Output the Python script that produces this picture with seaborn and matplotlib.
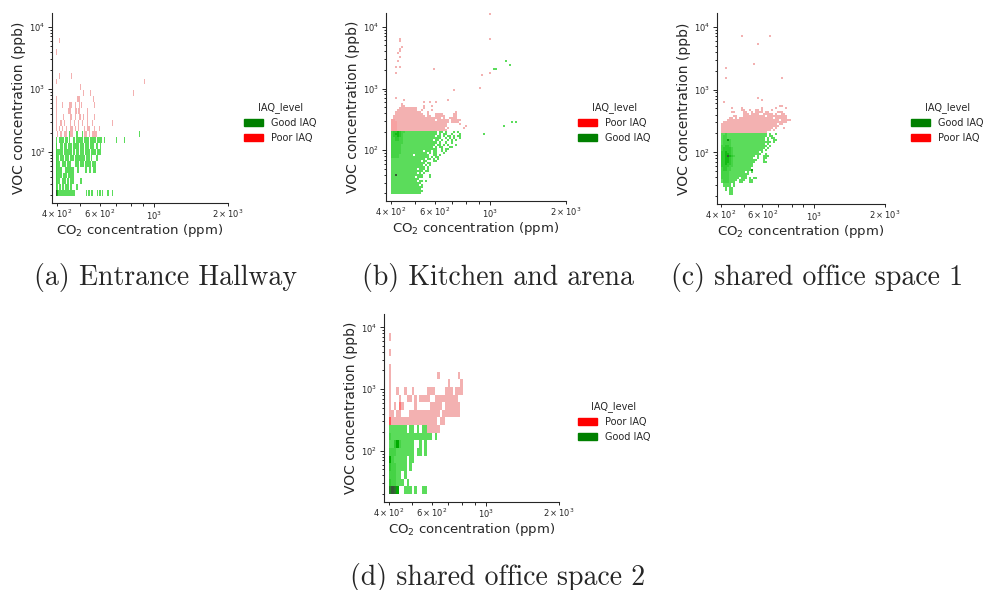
import numpy as np
import pandas as pd
import matplotlib
matplotlib.use("Agg")
import matplotlib.pyplot as plt
import seaborn as sns

# Count represented by each grid character ('.' = empty bin)
LEVEL_COUNTS = {"1": 1, "2": 3, "3": 5, "4": 8, "5": 11, "6": 14, "7": 18, "8": 22, "9": 26}

# ---------------- (a) Entrance Hallway ----------------
# bins in log10 units: origin, width and number of bins for CO2 (x) and VOC (y)
hallway_bins = dict(x0=2.599, dx=0.004075, nx=100, y0=1.291, dy=0.0939, ny=28)
hallway_good_top = 10
hallway_good_rows = [
    ".............1.1....11....1......1.....1",
    "1..11111.111.1...11.1111111.11111.111111.11111..1",
    "2...111.111.1111.111111.1111.1111.1111..11..1",
    "2111111.11111111.11.111.1111.11111.11111.1111",
    "211.1111.1111.1111.1111111111.1111.1....11",
    "2111..1111.1111....1111.1111.111111.1111",
    "211111...111111111...11......11..11..111",
    "211111.1111.111111",
    "2111..1111.11.1111......11",
    "21.11.11.1111.11....11",
    "9411111111111111111...........1.11.11....1.11.1....11...1",
]
hallway_good_co2 = [868, 698, 752]
hallway_good_voc = [187, 153, 153]
hallway_poor_top = 26
hallway_poor_rows = [
    "...1",
    "",
    "1",
    "",
    "",
    "",
    "...1...........1",
    "1",
    "........................1",
    "...........................1......1",
    "1....................111.............1",
    "1.....1......111...1...1.1............1",
    "1...........111....11.11.......1",
    "1......1......11...1...11..1...1......1",
    "1...11..1.....1...1...1...1....1....1",
    "1..1..1...1...111..1..1.....1..111....1....1",
    ".1..11..111...111...........111..1..11111",
]
hallway_poor_co2 = [908, 820, 672]
hallway_poor_voc = [1377, 902, 295]

# ---------------- (b) Kitchen and arena ----------------
kitchen_bins = dict(x0=2.602, dx=0.008, nx=64, y0=1.287, dy=0.0329, ny=90)
kitchen_good_top = 30
kitchen_good_rows = [
    "23343221111111111111111.11.1...1.1",
    "23443211111111111111111.1.11..1...1",
    "2334321111111111111111.11.1.11.1.11",
    "2233221111111111111111111..1.1.1..1",
    "223322111111111111111.11.1..1.1.1",
    "22222211111111111111111.1..1..1",
    "2222211111111111111111.11.1.1...1",
    "222221111111111111111.1.11...11",
    "22222111111111111111111..1.11",
    "2222211111111111.111.11..1.1",
    "222221111111111111.1.11...1",
    "22221111111.1111111..11.1",
    "2222111111111111111.1.11",
    "11111111111111111.11.1.1",
    "111111111111111.11...11",
    "11111111111111111.11",
    "1111111111111111.1.1",
    "11111111111111111.1",
    "1111111111111.111.1",
    "1111111111111111.11",
    "1111111111111.1.1",
    "1191111111111111...1",
    "111111111111.111...1",
    "11111111111111",
    "1111111111111.11.1",
    "111111111111111",
    "11111111111111.1",
    "1111111111111111",
    "111111111111111",
    "1111111111111111",
    "111111111111111",
]
kitchen_good_co2 = [1026, 1060, 1162, 1194, 1220, 1258, 1125, 935]
kitchen_good_voc = [2030, 2030, 2740, 2450, 295, 295, 245, 180]
kitchen_poor_top = 43
kitchen_poor_rows = [
    ".....11.........1...1",
    "....111111111...1",
    "...1111111111..1....1",
    "..1111111111111...1.............1",
    "..11111111111111..1...1111.....11",
    ".1111111111111111.11..11111....11",
    ".111111111111111111111111.1..1111",
    "2211111111111111111111.111111.11111",
    "22211111111111111111111111111.1111",
    "2221111111111111111111111111......1",
    "2221111111111111111111111111",
    "222111111111111111111111111.1",
    "2221111111111111111111111111",
]
kitchen_poor_co2 = [415, 447, 440, 542, 571, 607, 679, 721, 910, 927, 997, 418, 589,
                    422, 437, 426, 433, 429, 437, 434, 441, 437, 433, 1002, 988, 785, 800]
kitchen_poor_voc = [689, 660, 571, 593, 593, 593, 638, 929, 1040, 1690, 1815, 1815, 2030,
                    2270, 2270, 2740, 3300, 3690, 3980, 4450, 4790, 6000, 6460, 6460, 15900, 235, 250]

# ---------------- (c) shared office space 1 ----------------
office1_bins = dict(x0=2.602, dx=0.0085, nx=40, y0=1.317, dy=0.0318, ny=92)
office1_good_top = 30
office1_good_rows = [
    "11211111111111111111111.1..1",
    "12211111111111111111111.11",
    "1221111111111111111111.1.11",
    "1226211111111111111111.1..11",
    "1222211111111111111111111.1",
    "1222211111111111111111.1",
    "22332111111111111111111.1",
    "2333321111111111111111.1",
    "233332111111111111111.1",
    "3343321111111111111.1",
    "33443211111111111111..1",
    "33494321111111111.1..111",
    "3344321111111111..1..11",
    "334432111111111111...1",
    "33443211111111111....11",
    "3343321111111111",
    "3333221111111111",
    "233221111111111",
    "2332211111111116",
    "222211111111.1.1",
    "22221111111111",
    "2222111111111",
    "222211111.111.1.11",
    "12221111.111..11",
    "1222111..11...11",
    ".1111.1",
    ".1111.1",
    "..1.11",
    "..1.11",
    "....11",
    "....11",
]
office1_good_co2 = []
office1_good_voc = []
office1_poor_top = 44
office1_poor_rows = [
    ".............................1",
    ".....1.....................1....1",
    "..........11..1..11.1....1",
    ".....11....11..1.1111.11....111",
    "...........111.1111..11111.1..11",
    "......11...11111111111.1111111111",
    "....11.1.11111111111111111.111111",
    "...11111111111111111111111111.11111",
    ".11111111111111111111111111111111",
    "1111111111111111111111111111.11",
    "11111111111111111111111111111",
    "11111111111111111111111111.1...1",
    "1111111111111111111111111.1",
    "11111111111111111111111",
]
office1_poor_co2 = [495, 641, 570, 548, 424, 420, 728, 412, 570, 599, 492, 721, 593]
office1_poor_voc = [6790, 6790, 5070, 2530, 2110, 1460, 1460, 608, 705, 655, 507, 546, 507]

# ---------------- (d) shared office space 2 ----------------
office2_bins = dict(x0=2.602, dx=0.0105, nx=32, y0=1.30, dy=0.124, ny=22)
office2_good_top = 8
office2_good_rows = [
    "1111111.11.1.11",
    "21111111111111111.1",
    "1135211111..1.1",
    "2221111111.11.1",
    "5211111.11",
    "3221111.1",
    "22211.1",
    "322111.1",
    "7985..111.1..11",
]
office2_good_co2 = []
office2_good_voc = []
office2_poor_top = 20
office2_poor_rows = [
    "1",
    "",
    "1",
    "",
    "1",
    "1..................1.......1",
    "1......................1....1",
    "1..1..1..1.....111....111.111",
    "1...1..11.1.1111..111111111",
    "1.1.41....1.....11111.111111",
    "11.11...111111111111.1111111",
    "5111111111111111111.11",
    "...............11111",
]
office2_poor_co2 = []
office2_poor_voc = []

PALETTE = {"Good IAQ": "green", "Poor IAQ": "red"}
CO2_LIM = (382, 2000)
VOC_LIM = (15.1, 16500)


def grid_cells(rows, top_row, bins):
    """Turn a text grid of counts into bin-centre readings with weights."""
    co2, voc, n = [], [], []
    for i, row in enumerate(rows):
        r = top_row - i
        for k, ch in enumerate(row):
            if ch == ".":
                continue
            co2.append(10 ** (bins["x0"] + (k + 0.5) * bins["dx"]))
            voc.append(10 ** (bins["y0"] + (r + 0.5) * bins["dy"]))
            n.append(LEVEL_COUNTS[ch])
    return co2, voc, n


def room_frame(bins, good, poor):
    parts = []
    for level, (rows, top, xs, ys) in (("Good IAQ", good), ("Poor IAQ", poor)):
        c, v, n = grid_cells(rows, top, bins)
        c += list(xs)
        v += list(ys)
        n += [1] * len(xs)
        parts.append(pd.DataFrame({"co2": c, "voc": v, "n": n, "IAQ_level": level}))
    return pd.concat(parts, ignore_index=True)


rooms = [
    dict(
        frame=room_frame(hallway_bins,
                         (hallway_good_rows, hallway_good_top, hallway_good_co2, hallway_good_voc),
                         (hallway_poor_rows, hallway_poor_top, hallway_poor_co2, hallway_poor_voc)),
        bins=hallway_bins, order=["Good IAQ", "Poor IAQ"],
        box=(51.8, 13.1, 228.3, 203.0), legend=(244, 102),
        caption="(a) Entrance Hallway", cap=(166, 278)),
    dict(
        frame=room_frame(kitchen_bins,
                         (kitchen_good_rows, kitchen_good_top, kitchen_good_co2, kitchen_good_voc),
                         (kitchen_poor_rows, kitchen_poor_top, kitchen_poor_co2, kitchen_poor_voc)),
        bins=kitchen_bins, order=["Poor IAQ", "Good IAQ"],
        box=(385.5, 13.3, 566.0, 201.0), legend=(578, 102),
        caption="(b) Kitchen and arena", cap=(498.5, 278)),
    dict(
        frame=room_frame(office1_bins,
                         (office1_good_rows, office1_good_top, office1_good_co2, office1_good_voc),
                         (office1_poor_rows, office1_poor_top, office1_poor_co2, office1_poor_voc)),
        bins=office1_bins, order=["Good IAQ", "Poor IAQ"],
        box=(716.5, 13.0, 884.5, 204.0), legend=(911, 102),
        caption="(c) shared office space 1", cap=(817.5, 278)),
    dict(
        frame=room_frame(office2_bins,
                         (office2_good_rows, office2_good_top, office2_good_co2, office2_good_voc),
                         (office2_poor_rows, office2_poor_top, office2_poor_co2, office2_poor_voc)),
        bins=office2_bins, order=["Poor IAQ", "Good IAQ"],
        box=(383.7, 313.9, 559.3, 501.5), legend=(577.5, 401),
        caption="(d) shared office space 2", cap=(497.5, 577)),
]

sns.set_style("ticks")
plt.rcParams["font.family"] = ["DejaVu Sans"]

W, H = 984, 590
fig = plt.figure(figsize=(W / 100, H / 100), dpi=100)

for room in rooms:
    l, t, r, b = room["box"]
    ax = fig.add_axes([l / W, 1 - b / H, (r - l) / W, (b - t) / H])
    bins = room["bins"]
    sns.histplot(
        data=room["frame"], x="co2", y="voc", hue="IAQ_level", weights="n",
        hue_order=room["order"], palette=PALETTE, log_scale=True,
        binwidth=(bins["dx"], bins["dy"]),
        binrange=((bins["x0"], bins["x0"] + bins["nx"] * bins["dx"]),
                  (bins["y0"], bins["y0"] + bins["ny"] * bins["dy"])),
        ax=ax,
    )
    ax.set_xlim(*CO2_LIM)
    ax.set_ylim(*VOC_LIM)
    ax.set_xlabel("CO$_2$ concentration (ppm)", fontsize=9.5, labelpad=0.3)
    ax.set_ylabel("VOC concentration (ppb)", fontsize=10, labelpad=2)
    ax.tick_params(which="both", labelsize=6, width=0.7, color="0.15", pad=1.6)
    ax.tick_params(which="major", length=3)
    ax.tick_params(which="minor", length=1.8)
    for side in ("left", "bottom"):
        ax.spines[side].set_linewidth(0.8)
    sns.despine(ax=ax)
    lx, ly = room["legend"]
    sns.move_legend(ax, "upper left", bbox_to_anchor=(lx / W, 1 - ly / H),
                    bbox_transform=fig.transFigure, frameon=False,
                    fontsize=7, title_fontsize=7, borderpad=0, borderaxespad=0)
    cx, cy = room["cap"]
    fig.text(cx / W, 1 - cy / H, room["caption"], family="cmr10", fontsize=20,
             ha="center", va="center")

fig.savefig("out.png", dpi=100)
